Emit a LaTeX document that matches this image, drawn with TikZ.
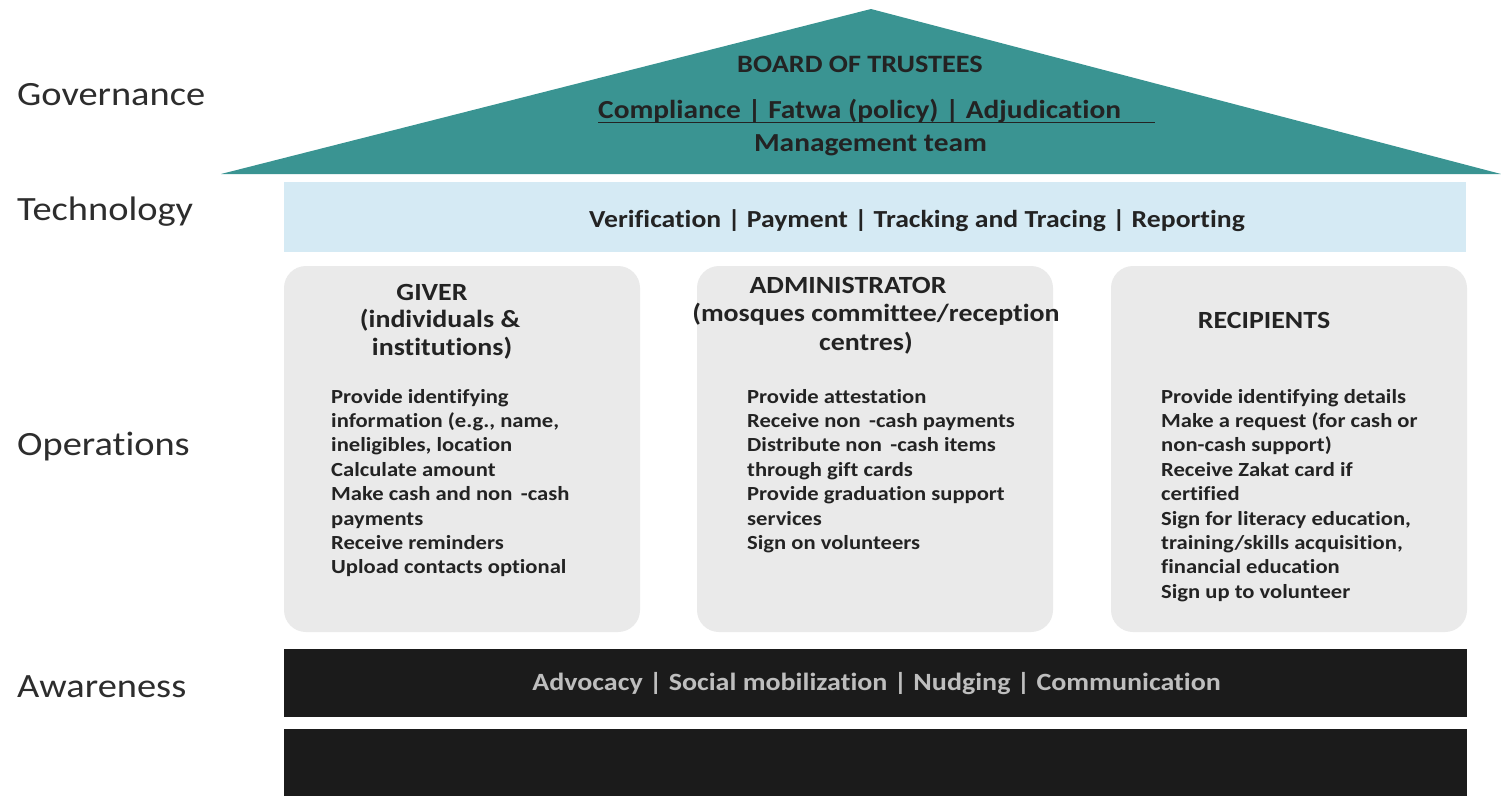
\documentclass[tikz,border=0pt]{standalone}
\usepackage{fontspec}
\setmainfont{Carlito}[FakeStretch=1.13, Ligatures=NoCommon]
\definecolor{roofteal}{RGB}{58,148,146}
\definecolor{techblue}{RGB}{213,234,244}
\definecolor{opsgray}{RGB}{234,234,234}
\definecolor{barblack}{RGB}{27,27,27}
\definecolor{bartext}{RGB}{190,190,190}
\definecolor{labelgray}{RGB}{45,45,45}
\definecolor{bodytext}{RGB}{35,35,35}
\tikzset{
  layerlabel/.style={anchor=base west, inner sep=0pt, text=labelgray, font=\fontsize{34}{40}\selectfont},
  rooftext/.style={anchor=base, inner sep=0pt, text=bodytext, font=\bfseries\fontsize{24.5}{28}\selectfont},
  opsbox/.style={fill=opsgray, rounded corners=22pt, minimum width=356pt, minimum height=366pt, inner sep=0pt},
  opstitle/.style={anchor=base, inner sep=0pt, text=bodytext, font=\bfseries\fontsize{24.7}{28}\selectfont},
  opsitems/.style={anchor=base west, inner sep=0pt, align=left, text=bodytext, font=\bfseries\fontsize{20}{24.4}\selectfont},
}
\begin{document}
\begin{tikzpicture}[x=1pt,y=-1pt]
\useasboundingbox (0,0) rectangle (1501,796);
\fill[white] (0,0) rectangle (1501,796);

% layer labels
\node[layerlabel] (lgov) at (17,105) {Governance};
\node[layerlabel] (ltech) at (17,220) {Technology};
\node[layerlabel] (lops) at (17,455) {Operations};
\node[layerlabel] (laware) at (17,697) {Awareness};

% roof
\fill[roofteal] (221,174) -- (871,9) -- (1501,174) -- cycle;
\node[rooftext, font=\bfseries\fontsize{25}{28}\selectfont] (board) at (860,72) {BOARD OF TRUSTEES};
\node[rooftext, font=\bfseries\fontsize{26}{30}\selectfont, anchor=base west] (compl) at (598,118) {Compliance | Fatwa (policy) | Adjudication};
\coordinate (ulstart) at (598,122.5);
\coordinate (ulend) at (1155,122.5);
\draw[bodytext, line width=1.3pt] (ulstart) -- (ulend);
\node[rooftext, font=\bfseries\fontsize{26}{30}\selectfont] (mgmt) at (870.5,151) {Management team};

% technology
\node[fill=techblue, minimum width=1182pt, minimum height=70pt, inner sep=0pt] (tech) at (875,217) {};
\node[rooftext] (techtext) at (917,227) {Verification | Payment | Tracking and Tracing | Reporting};

% operations
\node[opsbox] (giver) at (462,449) {};
\node[opsbox] (admin) at (875,449) {};
\node[opsbox] (recip) at (1289,449) {};

\node[opstitle] (givert1) at (432,300) {GIVER};
\node[opstitle] (givert2) at (440,327) {(individuals \&};
\node[opstitle] (givert3) at (442,355) {institutions)};
\node[opsitems] (giveritems) at (331,573.8) {Provide identifying\\information (e.g., name,\\ineligibles, location\\Calculate amount\\Make cash and non \,-cash\\payments\\Receive reminders\\Upload contacts optional};

\node[opstitle] (admint1) at (848,293) {ADMINISTRATOR};
\node[opstitle] (admint2) at (876,321) {(mosques committee/reception};
\node[opstitle] (admint3) at (866,350) {centres)};
\node[opsitems] (adminitems) at (747,549.4) {Provide attestation\\Receive non \,-cash payments\\Distribute non \,-cash items\\through gift cards\\Provide graduation support\\services\\Sign on volunteers};

\node[opstitle] (recipt1) at (1264,328) {RECIPIENTS};
\node[opsitems] (recipitems) at (1161,598.2) {Provide identifying details\\Make a request (for cash or\\non-cash support)\\Receive Zakat card if\\certified\\Sign for literacy education,\\training/skills acquisition,\\financial education\\Sign up to volunteer};

% awareness
\node[fill=barblack, minimum width=1183pt, minimum height=68pt, inner sep=0pt] (aware) at (875.5,683) {};
\node[rooftext, text=bartext, font=\bfseries\fontsize{24.8}{28}\selectfont] (awaretext) at (876.5,690) {Advocacy | Social mobilization | Nudging | Communication};

% bottom bar
\node[fill=barblack, minimum width=1183pt, minimum height=67pt, inner sep=0pt] (base) at (875.5,762.5) {};
\end{tikzpicture}
\end{document}
